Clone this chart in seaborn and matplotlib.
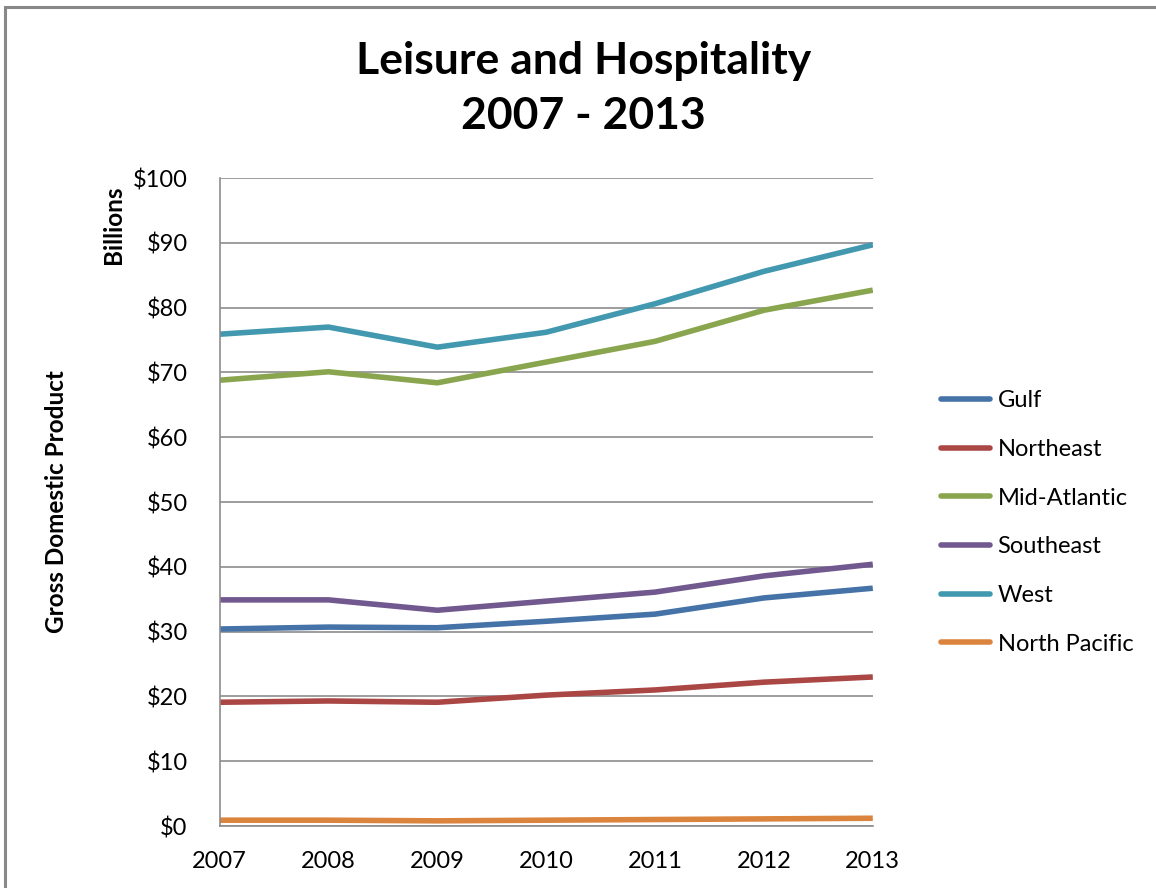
import matplotlib
matplotlib.use("Agg")
import matplotlib.pyplot as plt
import seaborn as sns
import pandas as pd
from matplotlib.patches import Rectangle

# GDP of the leisure and hospitality sector, billions of dollars
years = [2007, 2008, 2009, 2010, 2011, 2012, 2013]
gulf = [30.4, 30.7, 30.6, 31.6, 32.7, 35.2, 36.7]
northeast = [19.1, 19.3, 19.1, 20.2, 21.0, 22.2, 23.0]
mid_atlantic = [68.8, 70.1, 68.4, 71.6, 74.8, 79.6, 82.7]
southeast = [34.9, 34.9, 33.3, 34.7, 36.1, 38.6, 40.4]
west = [75.9, 77.0, 73.9, 76.2, 80.6, 85.6, 89.7]
north_pacific = [0.9, 0.9, 0.8, 0.9, 1.0, 1.1, 1.2]

regions = ["Gulf", "Northeast", "Mid-Atlantic", "Southeast", "West", "North Pacific"]
series = [gulf, northeast, mid_atlantic, southeast, west, north_pacific]
colors = ["#4572A7", "#AA4643", "#89A54E", "#71588F", "#4198AF", "#DB843D"]
y_ticks = list(range(0, 101, 10))
y_labels = [f"${v}" for v in y_ticks]

df = pd.DataFrame(
    [(y, r, v) for r, vals in zip(regions, series) for y, v in zip(years, vals)],
    columns=["Year", "Region", "GDP"],
)

sns.set_theme(style="white")
plt.rcParams["font.family"] = ["Lato", "DejaVu Sans"]
plt.rcParams["text.color"] = "black"

fig = plt.figure(figsize=(11.56, 8.88), dpi=100)
ax = fig.add_axes([0.190, 0.0698, 0.565, 0.7297])

sns.lineplot(
    data=df, x="Year", y="GDP", hue="Region", hue_order=regions,
    palette=colors, linewidth=4.0, ax=ax, legend=False,
    solid_capstyle="butt",
)

ax.set_xlim(years[0], years[-1])
ax.set_ylim(0, 100)
ax.set_xticks(years)
ax.set_xticklabels([str(y) for y in years], fontsize=17)
ax.set_yticks(y_ticks)
ax.set_yticklabels(y_labels, fontsize=17)
ax.yaxis.grid(True, color="#8c8c8c", linewidth=1.2)
ax.set_axisbelow(True)
ax.set_xlabel("")
ax.set_ylabel("")

for side in ["top", "right"]:
    ax.spines[side].set_visible(False)
for side in ["left", "bottom"]:
    ax.spines[side].set_color("#8c8c8c")
    ax.spines[side].set_linewidth(1.2)
ax.tick_params(axis="x", direction="in", length=5, width=1.2, color="#8c8c8c",
               labelcolor="black", pad=18)
ax.tick_params(axis="y", direction="out", length=3, width=1.2, color="#8c8c8c",
               labelcolor="black", pad=20)

# Legend on the right
handles = [plt.Line2D([0], [0], color=c, linewidth=4.0, solid_capstyle="round") for c in colors]
fig.legend(
    handles, regions, loc="upper left", bbox_to_anchor=(0.8057, 0.571),
    frameon=False, fontsize=17, handlelength=2.1, handletextpad=0.3,
    labelspacing=1.17, borderaxespad=0, labelcolor="black",
)

fig.text(0.505, 0.900, "Leisure and Hospitality\n2007 - 2013", ha="center", va="center",
         fontsize=32, fontweight="bold", linespacing=1.45, color="black")
fig.text(0.049, 0.435, "Gross Domestic Product", rotation=90, ha="center", va="center",
         fontsize=17.5, fontweight="bold", color="black")
fig.text(0.098, 0.747, "Billions", rotation=90, ha="center", va="center",
         fontsize=17.5, fontweight="bold", color="black")

# Outer chart frame
fig.patches.append(Rectangle((5 / 1156, -0.1), 1.2, 0.1 + (888 - 7) / 888,
                             transform=fig.transFigure, fill=False,
                             edgecolor="#888888", linewidth=2.2))

fig.savefig("out.png", dpi=100, facecolor="white")
